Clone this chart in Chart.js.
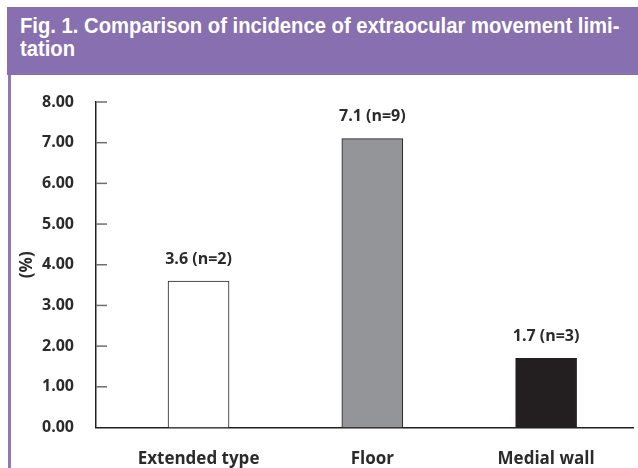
<!DOCTYPE html>
<html>
<head>
<meta charset="utf-8">
<script src="https://cdn.jsdelivr.net/npm/chart.js@4"></script>
<style>
  html, body { margin: 0; padding: 0; background: #fff; }
  #page { position: relative; width: 638px; height: 468px; overflow: hidden; }
  #header {
    position: absolute; left: 7px; top: 7px; width: 631px; height: 68px;
    background: #8870b0; color: #fff; box-sizing: border-box;
    padding: 7px 0 0 13px;
    font-family: "Liberation Sans", Arial, sans-serif;
    font-weight: bold; font-size: 22px; line-height: 23px;
  }
  #header div { white-space: nowrap; transform: scaleX(0.92); transform-origin: left center; }
  #rule { position: absolute; left: 8px; top: 75px; width: 3px; height: 393px; background: #8e78b6; }
  #chart { position: absolute; left: 0; top: 0; }
</style>
</head>
<body>
<div id="page">
  <canvas id="chart" width="638" height="468"></canvas>
  <div id="header"><div>Fig. 1. Comparison of incidence of extraocular movement limi-</div><div>tation</div></div>
  <div id="rule"></div>
</div>
<script>
// Data
const categories = ["Extended type", "Floor", "Medial wall"];
const values = [3.6, 7.1, 1.7];
const counts = [2, 9, 3];
const barColors = ["#ffffff", "#939598", "#231f20"];
const yTicks = [0, 1, 2, 3, 4, 5, 6, 7, 8];

const FONT = "'Open Sans', 'DejaVu Sans', sans-serif";
const TEXT = "#2b2b2b";

// inward tick marks on the y axis
const innerTicks = {
    id: "innerTicks",
    afterDraw(chart) {
        const ctx = chart.ctx;
        const y = chart.scales.y;
        const left = chart.chartArea.left;
        ctx.save();
        ctx.strokeStyle = "#6d6e71";
        ctx.lineWidth = 1.5;
        yTicks.forEach(v => {
            if (v === 0) return;
            const py = y.getPixelForValue(v);
            ctx.beginPath();
            ctx.moveTo(left, py);
            ctx.lineTo(left + 11, py);
            ctx.stroke();
        });
        ctx.restore();
    }
};

// value labels above the bars
const barLabels = {
    id: "barLabels",
    afterDatasetsDraw(chart) {
        const ctx = chart.ctx;
        const meta = chart.getDatasetMeta(0);
        ctx.save();
        ctx.font = "bold 16px " + FONT;
        ctx.fillStyle = TEXT;
        ctx.textAlign = "center";
        ctx.textBaseline = "middle";
        meta.data.forEach((bar, i) => {
            ctx.fillText(values[i] + " (n=" + counts[i] + ")", bar.x, bar.y - 22);
        });
        ctx.restore();
    }
};

document.addEventListener("DOMContentLoaded", () => {
    const ctx = document.getElementById("chart").getContext("2d");
    new Chart(ctx, {
        type: "bar",
        data: {
            datasets: [{
                data: values.map((v, i) => ({ x: i, y: v })),
                backgroundColor: barColors,
                borderColor: "#231f20",
                borderWidth: 1,
                barThickness: 61,
            }]
        },
        options: {
            responsive: false,
            animation: false,
            layout: { padding: { top: 102, right: 5, left: 0, bottom: 0 } },
            plugins: { legend: { display: false }, tooltip: { enabled: false } },
            scales: {
                x: {
                    type: "linear",
                    offset: false,
                    min: -0.59,
                    max: 2.5,
                    afterBuildTicks: scale => { scale.ticks = categories.map((c, i) => ({ value: i })); },
                    afterFit: scale => { scale.height = 40.5; },
                    grid: { display: false, offset: false },
                    border: { display: true, color: "#231f20", width: 1.5 },
                    ticks: {
                        padding: 13,
                        color: TEXT,
                        font: { family: FONT, size: 17, weight: "bold" },
                        callback: v => categories[v] ?? "",
                    },
                },
                y: {
                    min: 0,
                    max: 8,
                    afterBuildTicks: scale => { scale.ticks = yTicks.map(v => ({ value: v })); },
                    afterFit: scale => { scale.width = 96; },
                    grid: { display: false },
                    border: { display: true, color: "#231f20", width: 1.5 },
                    ticks: {
                        padding: 14,
                        color: TEXT,
                        font: { family: FONT, size: 16, weight: "bold" },
                        callback: v => v.toFixed(2),
                    },
                    title: {
                        display: true,
                        text: "(%)",
                        color: TEXT,
                        font: { family: FONT, size: 17, weight: "bold" },
                        padding: { top: 17, bottom: 0 },
                    },
                },
            },
        },
        plugins: [innerTicks, barLabels],
    });
});
</script>
</body>
</html>
